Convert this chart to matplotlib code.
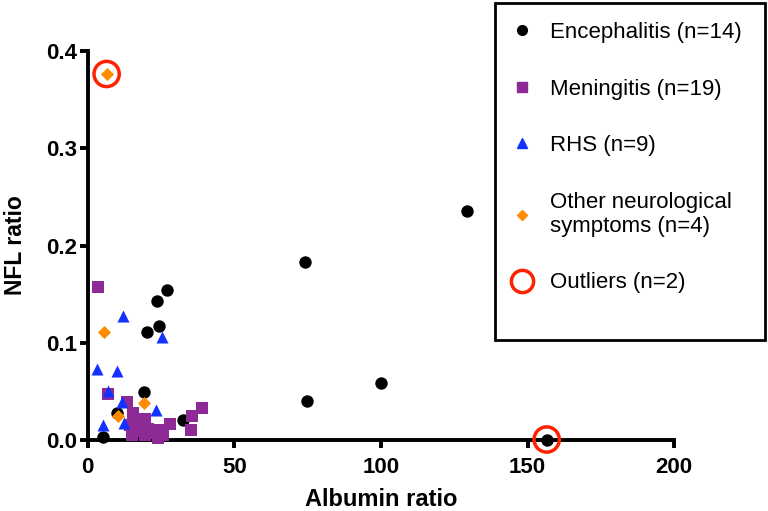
import matplotlib
matplotlib.use("Agg")
import matplotlib.pyplot as plt
from matplotlib.lines import Line2D
from matplotlib.patches import Rectangle

plt.rcParams['font.family'] = ['Liberation Sans', 'DejaVu Sans']

# Albumin ratio (x) and NFL ratio (y) per group
enc_x = [129.2, 74.0, 100.1, 74.9, 156.5, 27.2, 23.8, 24.3, 20.1, 19.2, 9.9, 5.4, 32.6, 17.5]
enc_y = [0.235, 0.183, 0.059, 0.040, 0.001, 0.154, 0.1435, 0.1175, 0.1117, 0.0495, 0.0285, 0.004, 0.021, 0.006]

men_x = [3.6, 7.1, 13.5, 15.6, 19.6, 28.1, 35.5, 38.9, 35.1, 15.0, 19.6, 24.1, 25.8, 14.5,
         20.5, 22.0, 17.0, 24.0, 16.5]
men_y = [0.157, 0.048, 0.039, 0.0285, 0.0217, 0.0166, 0.0255, 0.033, 0.0108, 0.0056, 0.0056,
         0.0108, 0.0056, 0.016, 0.012, 0.008, 0.020, 0.003, 0.010]

rhs_x = [12.2, 25.3, 3.1, 9.9, 6.8, 11.6, 23.5, 12.4, 5.4]
rhs_y = [0.128, 0.106, 0.073, 0.0716, 0.051, 0.039, 0.031, 0.018, 0.016]

oth_x = [6.5, 5.7, 19.3, 10.3]
oth_y = [0.376, 0.111, 0.038, 0.025]

out_x = [6.5, 156.5]
out_y = [0.376, 0.001]

labels = ['Encephalitis (n=14)', 'Meningitis (n=19)', 'RHS (n=9)',
          'Other neurological\nsymptoms (n=4)', 'Outliers (n=2)']

purple = '#8E2A96'
blue = '#1432FF'
orange = '#FF8C00'
red = '#FF2200'

fig = plt.figure(figsize=(7.68, 5.11), dpi=100)
ax = fig.add_axes([0.114, 0.138, 0.764, 0.763])

kw = dict(clip_on=False, zorder=3, linewidths=0)
ax.scatter(enc_x, enc_y, s=80, marker='o', color='black', **kw)
ax.scatter(men_x, men_y, s=85, marker='s', color=purple, **kw)
ax.scatter(rhs_x, rhs_y, s=75, marker='^', color=blue, **kw)
ax.scatter(oth_x, oth_y, s=45, marker='D', color=orange, **kw)
ax.scatter(out_x, out_y, s=330, marker='o', facecolors='none', edgecolors=red,
           linewidths=2.5, clip_on=False, zorder=4)

ax.set_xlim(0, 200)
ax.set_ylim(0, 0.4)
ax.set_xticks([0, 50, 100, 150, 200])
ax.set_yticks([0.0, 0.1, 0.2, 0.3, 0.4])
ax.set_yticklabels(['0.0', '0.1', '0.2', '0.3', '0.4'])
for s in ['top', 'right']:
    ax.spines[s].set_visible(False)
for s in ['left', 'bottom']:
    ax.spines[s].set_linewidth(2.8)
ax.tick_params(width=2.8, length=6, labelsize=16)
ax.tick_params(axis='x', pad=6)
ax.tick_params(axis='y', pad=1.5)
for t in ax.get_xticklabels() + ax.get_yticklabels():
    t.set_fontweight('bold')
ax.set_xlabel('Albumin ratio', fontsize=17, fontweight='bold', labelpad=7)
ax.set_ylabel('NFL ratio', fontsize=16.5, fontweight='bold', labelpad=14)

handles = [
    Line2D([], [], ls='none', marker='o', color='black', markersize=7),
    Line2D([], [], ls='none', marker='s', color=purple, markersize=7),
    Line2D([], [], ls='none', marker='^', color=blue, markersize=7),
    Line2D([], [], ls='none', marker='D', color=orange, markersize=5),
    Line2D([], [], ls='none', marker='o', markerfacecolor='none', markeredgecolor=red,
           markeredgewidth=2.5, markersize=16),
]
fig.legend(handles, labels, loc='upper left', bbox_to_anchor=(0.6305, 0.996),
           frameon=False, fontsize=16, labelspacing=1.6, handletextpad=0.46,
           handlelength=1.6)
fig.patches.append(Rectangle((495 / 768, 1 - 340 / 511), 270 / 768, 337 / 511,
                             transform=fig.transFigure, fill=False,
                             edgecolor='black', linewidth=2))

fig.savefig('out.png', dpi=100)
